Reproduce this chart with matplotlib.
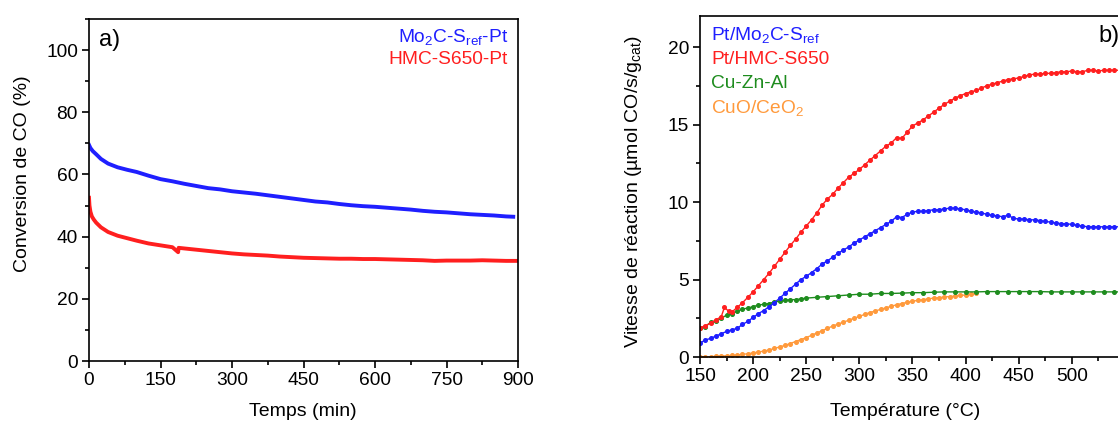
import matplotlib
matplotlib.use("Agg")
import matplotlib.pyplot as plt
from matplotlib.ticker import MultipleLocator

plt.rcParams['font.family'] = ['Liberation Sans', 'DejaVu Sans']
plt.rcParams['mathtext.fontset'] = 'custom'
plt.rcParams['mathtext.rm'] = 'Liberation Sans'
plt.rcParams['mathtext.it'] = 'Liberation Sans:italic'

# ---------------- Panel a) data ----------------
time_mo2c = [0, 3, 8, 15, 25, 40, 60, 80, 100, 125, 150, 175, 200, 225, 250, 275, 300, 325, 350,
             375, 400, 425, 450, 475, 500, 525, 550, 575, 600, 625, 650, 675, 700, 725, 750, 775,
             800, 825, 850, 875, 890]
conv_mo2c = [69.5, 68.5, 67.5, 66.5, 65.0, 63.5, 62.3, 61.5, 60.8, 59.6, 58.5, 57.8, 57.0, 56.3,
             55.6, 55.2, 54.6, 54.2, 53.8, 53.3, 52.8, 52.3, 51.8, 51.3, 51.0, 50.5, 50.1, 49.8,
             49.6, 49.3, 49.0, 48.7, 48.3, 48.0, 47.8, 47.5, 47.2, 47.0, 46.8, 46.5, 46.4]
time_hmc = [0, 1, 3, 6, 10, 15, 25, 40, 60, 80, 100, 125, 150, 175, 187, 188, 200, 225, 250, 275,
            300, 325, 350, 375, 400, 425, 450, 475, 500, 525, 550, 575, 600, 625, 650, 675, 700,
            725, 750, 775, 800, 825, 850, 875, 900]
conv_hmc = [52.5, 50.0, 48.0, 46.5, 45.5, 44.5, 43.0, 41.5, 40.3, 39.5, 38.7, 37.8, 37.2, 36.6,
            35.0, 36.4, 36.2, 35.8, 35.4, 35.0, 34.6, 34.3, 34.1, 33.9, 33.6, 33.4, 33.2, 33.1,
            33.0, 32.9, 32.9, 32.8, 32.8, 32.7, 32.6, 32.5, 32.4, 32.2, 32.3, 32.3, 32.3, 32.4,
            32.3, 32.2, 32.2]

# ---------------- Panel b) data ----------------
temp_hmc = [150, 155, 160, 165, 170, 173, 177, 180, 185, 190, 195, 200, 205, 210, 215, 220, 225,
            230, 235, 240, 245, 250, 255, 260, 265, 270, 275, 280, 285, 290, 295, 300, 305, 310,
            315, 320, 325, 330, 335, 340, 345, 350, 355, 360, 365, 370, 375, 380, 385, 390, 395,
            400, 405, 410, 415, 420, 425, 430, 435, 440, 445, 450, 455, 460, 465, 470, 475, 480,
            485, 490, 495, 500, 505, 510, 515, 520, 525, 530, 535, 540, 545, 550, 555, 560]
rate_hmc = [1.9, 2.0, 2.2, 2.4, 2.6, 3.2, 2.95, 2.9, 3.2, 3.5, 3.85, 4.2, 4.6, 5.0, 5.4, 5.85, 6.3,
            6.75, 7.2, 7.6, 8.05, 8.45, 8.85, 9.3, 9.8, 10.2, 10.5, 10.9, 11.25, 11.6, 11.85, 12.1,
            12.4, 12.7, 13.0, 13.3, 13.6, 13.8, 14.15, 14.1, 14.5, 14.9, 15.1, 15.3, 15.55, 15.8,
            16.05, 16.3, 16.5, 16.7, 16.85, 17.0, 17.1, 17.2, 17.35, 17.5, 17.6, 17.7, 17.8, 17.9,
            17.95, 18.0, 18.1, 18.2, 18.25, 18.25, 18.3, 18.3, 18.35, 18.4, 18.4, 18.45, 18.4,
            18.4, 18.5, 18.5, 18.45, 18.5, 18.5, 18.5, 18.5, 18.5, 18.5, 18.5]

temp_mo2c = [150, 155, 160, 165, 170, 175, 180, 185, 190, 195, 200, 205, 210, 215, 220, 225, 230,
             235, 240, 245, 250, 255, 260, 265, 270, 275, 280, 285, 290, 295, 300, 305, 310, 315,
             320, 325, 330, 335, 340, 345, 350, 355, 360, 365, 370, 375, 380, 385, 390, 395, 400,
             405, 410, 415, 420, 425, 430, 435, 440, 445, 450, 455, 460, 465, 470, 475, 480, 485,
             490, 495, 500, 505, 510, 515, 520, 525, 530, 535, 540, 545, 550, 555, 560]
rate_mo2c = [0.9, 1.1, 1.2, 1.35, 1.5, 1.65, 1.75, 1.85, 2.1, 2.3, 2.55, 2.8, 3.0, 3.25, 3.5, 3.8,
             4.1, 4.4, 4.7, 5.0, 5.2, 5.45, 5.7, 6.0, 6.2, 6.45, 6.7, 6.9, 7.1, 7.35, 7.55, 7.75,
             7.95, 8.15, 8.35, 8.55, 8.75, 9.05, 9.0, 9.2, 9.35, 9.4, 9.4, 9.45, 9.5, 9.5, 9.55,
             9.6, 9.6, 9.55, 9.5, 9.4, 9.35, 9.3, 9.2, 9.15, 9.1, 9.05, 9.15, 8.95, 8.9, 8.9, 8.85,
             8.85, 8.8, 8.75, 8.7, 8.65, 8.6, 8.6, 8.55, 8.5, 8.45, 8.4, 8.4, 8.4, 8.4, 8.4, 8.4,
             8.4, 8.4, 8.4, 8.4]

temp_cuznal = [150, 155, 160, 165, 170, 175, 180, 185, 190, 195, 200, 205, 210, 215, 220, 225,
               230, 235, 240, 245, 250, 260, 270, 280, 290, 300, 310, 320, 330, 340, 350, 360,
               370, 380, 390, 400, 410, 420, 430, 440, 450, 460, 470, 480, 490, 500, 510, 520,
               530, 540, 550, 560]
rate_cuznal = [1.85, 1.95, 2.25, 2.3, 2.5, 2.7, 2.8, 2.95, 3.1, 3.15, 3.25, 3.35, 3.4, 3.45, 3.55,
               3.6, 3.65, 3.7, 3.7, 3.75, 3.8, 3.85, 3.9, 3.95, 4.0, 4.05, 4.05, 4.1, 4.1, 4.12,
               4.15, 4.15, 4.18, 4.2, 4.2, 4.2, 4.2, 4.22, 4.22, 4.22, 4.22, 4.22, 4.22, 4.2, 4.2,
               4.2, 4.2, 4.2, 4.2, 4.2, 4.2, 4.2]

temp_cuo = [150, 155, 160, 165, 170, 175, 180, 185, 190, 195, 200, 205, 210, 215, 220, 225, 230,
            235, 240, 245, 250, 255, 260, 265, 270, 275, 280, 285, 290, 295, 300, 305, 310, 315,
            320, 325, 330, 335, 340, 345, 350, 355, 360, 365, 370, 375, 380, 385, 390, 395, 400,
            405, 410]
rate_cuo = [0.0, 0.0, 0.02, 0.04, 0.06, 0.08, 0.1, 0.13, 0.17, 0.21, 0.26, 0.32, 0.38, 0.45, 0.55,
            0.65, 0.75, 0.87, 1.0, 1.12, 1.25, 1.4, 1.55, 1.7, 1.85, 2.0, 2.12, 2.25, 2.37, 2.5,
            2.62, 2.75, 2.87, 2.97, 3.07, 3.17, 3.27, 3.37, 3.45, 3.53, 3.6, 3.65, 3.7, 3.75, 3.8,
            3.83, 3.87, 3.9, 3.93, 3.97, 4.0, 4.05, 4.1]

BLUE = '#1f1fff'
RED = '#ff1f1f'
GREEN = '#1e8c1e'
ORANGE = '#ff9a3c'

W, H = 1118, 421
fig = plt.figure(figsize=(W / 100, H / 100), dpi=100)

def px_axes(l, t, r, b):
    return fig.add_axes([l / W, 1 - b / H, (r - l) / W, (b - t) / H])

def ftext(x, y, s, **kw):
    return fig.text(x / W, 1 - y / H, s, **kw)

FS_TICK = 13.8
FS_LAB = 14
FS_LEG = 13.8

def style(ax):
    ax.tick_params(which='major', direction='out', length=5, width=1.2, labelsize=FS_TICK, pad=3)
    ax.tick_params(which='minor', direction='out', length=3, width=1.2)
    ax.tick_params(axis='both', which='both', top=False, right=False)
    for s in ax.spines.values():
        s.set_linewidth(1.2)

# ---------------- Panel a ----------------
ax1 = px_axes(89, 19, 518, 361)
ax1.plot(time_mo2c, conv_mo2c, color=BLUE, lw=2.8)
ax1.plot(time_hmc, conv_hmc, color=RED, lw=2.8)
ax1.set_xlim(0, 900)
ax1.set_ylim(0, 110)
ax1.xaxis.set_major_locator(MultipleLocator(150))
ax1.xaxis.set_minor_locator(MultipleLocator(75))
ax1.yaxis.set_minor_locator(MultipleLocator(10))
ax1.set_yticks([0, 20, 40, 60, 80, 100])
style(ax1)
ftext(303, 411, 'Temps (min)', fontsize=FS_LAB, ha='center', va='center')
ftext(23, 174, 'Conversion de CO (%)', fontsize=FS_LAB, ha='center', va='center', rotation=90)
ftext(99, 40, 'a)', fontsize=17, va='center', ha='left')
ftext(508, 37, r'Mo$_{\mathregular{2}}$C-S$_{\mathregular{ref}}$-Pt',
      fontsize=FS_LEG, color=BLUE, va='center', ha='right')
ftext(508, 60, 'HMC-S650-Pt', fontsize=FS_LEG, color=RED, va='center', ha='right')

# ---------------- Panel b ----------------
ax2 = px_axes(700, 16, 1178, 357)
mk = dict(marker='o', markersize=2.6, lw=1.0)
ax2.plot(temp_cuo, rate_cuo, color=ORANGE, **mk)
ax2.plot(temp_cuznal, rate_cuznal, color=GREEN, **mk)
ax2.plot(temp_mo2c, rate_mo2c, color=BLUE, **mk)
ax2.plot(temp_hmc, rate_hmc, color=RED, **mk)
ax2.set_xlim(150, 600)
ax2.set_ylim(0, 22)
ax2.xaxis.set_minor_locator(MultipleLocator(25))
ax2.yaxis.set_major_locator(MultipleLocator(5))
ax2.yaxis.set_minor_locator(MultipleLocator(2.5))
style(ax2)
ax2.set_xticks([150, 200, 250, 300, 350, 400, 450, 500])
ftext(905, 411, 'Température (°C)', fontsize=FS_LAB, ha='center', va='center')
ftext(634, 192, r'Vitesse de réaction (µmol CO/s/g$_{\mathregular{cat}}$)',
      fontsize=FS_LAB, ha='center', va='center', rotation=90)
ftext(1098, 36, 'b)', fontsize=17, va='center', ha='left')
labels_b = [(r'Pt/Mo$_{\mathregular{2}}$C-S$_{\mathregular{ref}}$', BLUE),
            ('Pt/HMC-S650', RED),
            ('Cu-Zn-Al', GREEN),
            (r'CuO/CeO$_{\mathregular{2}}$', ORANGE)]
for i, (lab, c) in enumerate(labels_b):
    ftext(711, 35 + i * 24.3, lab, fontsize=FS_LEG, color=c, va='center', ha='left')

fig.savefig('out.png', dpi=100)
